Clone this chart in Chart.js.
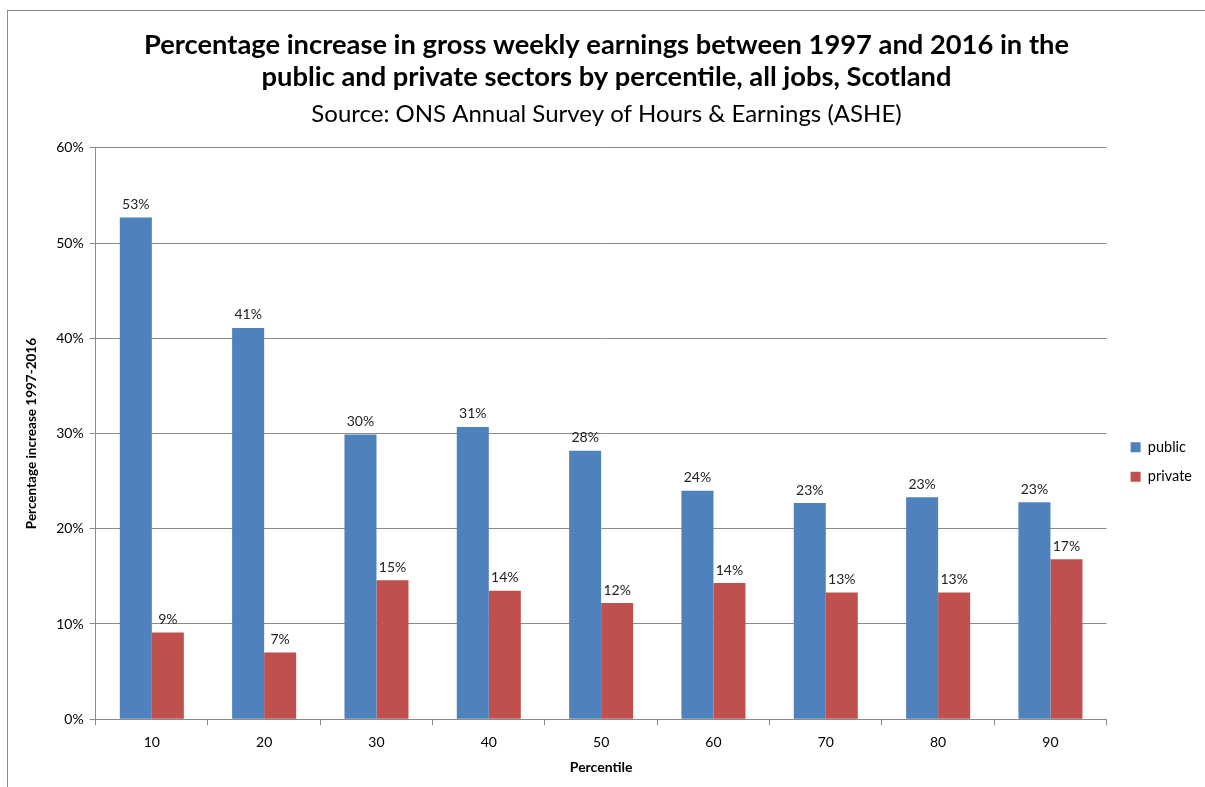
<!DOCTYPE html>
<html>
<head>
<meta charset="utf-8">
<script src="https://cdn.jsdelivr.net/npm/chart.js@4.4.1/dist/chart.umd.min.js"></script>
<style>
  body { margin: 0; background: #fff; }
  #frame { position: absolute; left: 7px; top: 10px; width: 1300px; height: 900px;
           border-top: 1px solid #8a8a8a; border-left: 1px solid #8a8a8a; }
  #wrap { position: absolute; left: 0; top: 0; width: 1205px; height: 787px; }
</style>
</head>
<body>
<div id="frame"></div>
<div id="wrap"><canvas id="myChart" width="1205" height="787"></canvas></div>
<script>
// percentile categories and % increase 1997-2016
var percentiles = ["10", "20", "30", "40", "50", "60", "70", "80", "90"];
var publicVals = [52.7, 41.1, 29.9, 30.7, 28.2, 24.0, 22.7, 23.3, 22.8];
var privateVals = [9.1, 7.0, 14.6, 13.5, 12.2, 14.3, 13.3, 13.3, 16.8];
var yTicks = [0, 10, 20, 30, 40, 50, 60];

var FONT = "Lato, 'Open Sans', sans-serif";

// labels above each bar, like excel data labels
var barLabels = {
  id: "barLabels",
  afterDatasetsDraw: function (chart) {
    var ctx = chart.ctx;
    ctx.save();
    ctx.font = "14px " + FONT;
    ctx.fillStyle = "#222";
    ctx.textAlign = "center";
    ctx.textBaseline = "bottom";
    chart.data.datasets.forEach(function (ds, i) {
      chart.getDatasetMeta(i).data.forEach(function (bar, j) {
        ctx.fillText(Math.round(ds.data[j]) + "%", bar.x, bar.y - 6);
      });
    });
    ctx.restore();
  }
};

// excel puts the legend a bit lower and further right
var legendShift = {
  id: "legendShift",
  afterLayout: function (chart) {
    var lg = chart.legend;
    lg.left += 9; lg.right += 9;
    lg.top += 73; lg.bottom += 73;
  }
};

var ctx = document.getElementById("myChart").getContext("2d");
var myChart = new Chart(ctx, {
  type: "bar",
  data: {
    labels: percentiles,
    datasets: [
      { label: "public", data: publicVals, backgroundColor: "#4F81BD" },
      { label: "private", data: privateVals, backgroundColor: "#C0504D" }
    ]
  },
  options: {
    responsive: false,
    animation: false,
    layout: { padding: { top: 0, right: 12, left: 20, bottom: 9 } },
    datasets: { bar: { categoryPercentage: 0.57, barPercentage: 1.0 } },
    plugins: {
      title: {
        display: true,
        text: ["Percentage increase in gross weekly earnings between 1997 and 2016 in the",
               "public and private sectors by percentile, all jobs, Scotland"],
        color: "#000",
        font: { family: FONT, size: 27.3, weight: "bold", lineHeight: 1.175 },
        padding: { top: 29, bottom: 0 }
      },
      subtitle: {
        display: true,
        text: "Source: ONS Annual Survey of Hours & Earnings (ASHE)",
        color: "#000",
        font: { family: FONT, size: 24, lineHeight: 1.2 },
        padding: { top: 7, bottom: 19 }
      },
      legend: {
        position: "right",
        labels: {
          color: "#000",
          boxWidth: 10,
          boxHeight: 10,
          padding: 15,
          font: { family: FONT, size: 14.5 }
        }
      },
      tooltip: { enabled: false }
    },
    scales: {
      x: {
        grid: { display: true, drawOnChartArea: false, color: "#8a8a8a", tickLength: 6, offset: true },
        border: { color: "#8a8a8a" },
        ticks: { color: "#000", font: { family: FONT, size: 14 }, padding: 9 },
        title: {
          display: true, text: "Percentile", color: "#000",
          font: { family: FONT, size: 14, weight: "bold", lineHeight: 1.0 }, padding: { top: 0 }
        }
      },
      y: {
        min: 0,
        max: 60,
        afterBuildTicks: function (axis) {
          axis.ticks = yTicks.map(function (v) { return { value: v }; });
        },
        grid: { color: "#8a8a8a", tickLength: 6 },
        border: { color: "#8a8a8a" },
        ticks: {
          color: "#000",
          font: { family: FONT, size: 14 },
          padding: 6,
          callback: function (v) { return v + "%"; }
        },
        title: {
          display: true, text: "Percentage increase 1997-2016", color: "#000",
          font: { family: FONT, size: 13.5, weight: "bold" }, padding: { bottom: 10 }
        }
      }
    }
  },
  plugins: [barLabels, legendShift]
});
</script>
</body>
</html>
